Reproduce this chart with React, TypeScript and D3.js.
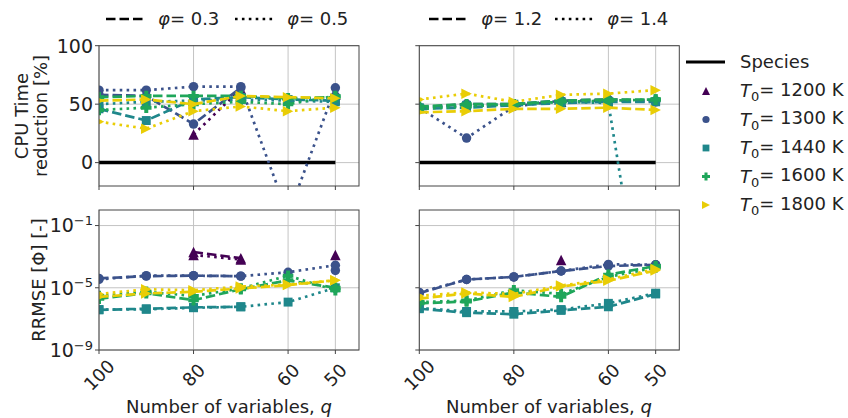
import React from "react";
import * as d3 from "d3";

const q = [100, 90, 80, 70, 60, 50];
const temps = [1200, 1300, 1440, 1600, 1800];
const colors = ["#440154", "#3b528b", "#1f878b", "#1fa65a", "#e9cd06"];
const markers = ["tri-up", "circle", "square", "plus", "tri-right"];

// CPU time reduction [%] (rows = temps, cols = q)
const cpuPhi03 = [
  [null, null, null, null, null, null],
  [58, 57, 33, 64, null, 57],
  [46, 36, 54, 56, 54, 53],
  [56, 57, 57, 57, 55, 56],
  [53, 54, 50, 57, 56, 55],
];
const cpuPhi05 = [
  [null, null, 24, 63, null, 58],
  [62, 62, 65, 65, -45, 64],
  [50, 52, 53, 54, 53, 52],
  [45, 47, 50, 52, 50, 57],
  [35, 29, 44, 48, 44, 47],
];
const cpuPhi12 = [
  [null, null, null, 52, null, null],
  [47, 50, 50, 53, 54, 53],
  [46, 47, 49, 51, 52, 52],
  [48, 50, 50, 53, 54, 54],
  [43, 44, 46, 46, 47, 45],
];
const cpuPhi14 = [
  [null, null, null, null, null, null],
  [47, 21, 48, 53, 53, 52],
  [47, 49, 50, 52, 51, -200],
  [46, 48, 50, 52, 53, 54],
  [54, 59, 52, 58, 59, 62],
];

// RRMSE
const errPhi03 = [
  [null, null, 2.0e-3, 8e-4, null, null],
  [4.0e-5, 5.6e-5, 6.0e-5, 5.6e-5, null, 1.3e-4],
  [3.8e-7, 4.5e-7, 5.5e-7, 6.0e-7, null, null],
  [2.0e-6, 4.5e-6, 1.6e-6, 8e-6, 3e-5, 1.0e-5],
  [2.6e-6, 4.3e-6, 5.5e-6, 9e-6, 1.5e-5, 3.0e-5],
];
const errPhi05 = [
  [null, null, 1.3e-3, 6.5e-4, null, 1.3e-3],
  [3.5e-5, 6e-5, 6e-5, 5.6e-5, 1.0e-4, 2.8e-4],
  [4.0e-7, 4.1e-7, 5.2e-7, 6.0e-7, 1.2e-6, 1.0e-5],
  [3.0e-6, 5.5e-6, 3.0e-6, 9e-6, 6e-5, 7e-6],
  [4e-6, 8e-6, 7e-6, 1.2e-5, 1.6e-5, 3.0e-5],
];
const errPhi12 = [
  [null, null, null, 6e-4, null, null],
  [4.5e-6, 3.4e-5, 5.0e-5, 1.2e-4, 2.5e-4, 3.0e-4],
  [4.5e-7, 2.5e-7, 2.0e-7, 3.5e-7, 6e-7, 4e-6],
  [1.0e-6, 1.3e-6, 5e-6, 2.6e-6, 7e-5, 2.5e-4],
  [2.0e-6, 4.3e-6, 2.6e-6, 1.2e-5, 2.8e-5, 1.3e-4],
];
const errPhi14 = [
  [null, null, null, null, null, null],
  [5e-6, 3.4e-5, 5.0e-5, 1.2e-4, 3.2e-4, 3.0e-4],
  [5.0e-7, 3.0e-7, 3.0e-7, 4.0e-7, 1.0e-6, 4.5e-6],
  [1.2e-6, 1.5e-6, 7e-6, 4e-6, 5e-5, 2.0e-4],
  [3e-6, 5e-6, 4e-6, 1.4e-5, 3.5e-5, 1.6e-4],
];

const xTicks = [100, 80, 60, 50];
const cpuTicks = [0, 50, 100];
const errTicks = [1e-9, 1e-5, 1e-1];

const font = "DejaVu Sans, sans-serif";
const DASH = "9.5,4";
const DOT = "2.6,4.3";

function Marker({ type, x, y, s, color }) {
  const r = s / 2;
  if (type === "circle") return <circle cx={x} cy={y} r={r * 0.9} fill={color} />;
  if (type === "square")
    return <rect x={x - r * 0.85} y={y - r * 0.85} width={r * 1.7} height={r * 1.7} fill={color} />;
  if (type === "tri-up")
    return <path d={`M${x},${y - r}L${x + r},${y + r}L${x - r},${y + r}Z`} fill={color} />;
  if (type === "tri-right")
    return <path d={`M${x + r},${y}L${x - r},${y - r}L${x - r},${y + r}Z`} fill={color} />;
  const t = r * 0.38;
  return (
    <path
      d={`M${x - t},${y - r}H${x + t}V${y - t}H${x + r}V${y + t}H${x + t}V${y + r}H${x - t}V${y + t}H${x - r}V${y - t}H${x - t}Z`}
      fill={color}
    />
  );
}

function Panel({ id, x, y, dashed, dotted, yTicks, yFmt, showY, showX, species }) {
  const [x0, x1] = x.range();
  const [y0, y1] = y.range();
  const line = d3
    .line()
    .defined((d) => d[1] != null)
    .x((d) => x(d[0]))
    .y((d) => y(d[1]));
  const series = [];
  temps.forEach((t, i) => {
    series.push({ vals: dashed[i], dash: DASH, i });
    series.push({ vals: dotted[i], dash: DOT, i });
  });
  return (
    <g>
      <defs>
        <clipPath id={id}>
          <rect x={x0} y={y1} width={x1 - x0} height={y0 - y1} />
        </clipPath>
      </defs>
      {xTicks.map((t) => (
        <line key={"gx" + t} x1={x(t)} x2={x(t)} y1={y0} y2={y1} stroke="#c4c4c4" strokeWidth={1} />
      ))}
      {yTicks.map((t) => (
        <line key={"gy" + t} x1={x0} x2={x1} y1={y(t)} y2={y(t)} stroke="#c4c4c4" strokeWidth={1} />
      ))}
      <g clipPath={`url(#${id})`}>
        {species && (
          <line x1={x(100)} x2={x(50)} y1={y(0)} y2={y(0)} stroke="#000" strokeWidth={3.5} />
        )}
        {series.map((s, k) => {
          const pts = q.map((v, j) => [v, s.vals[j]]);
          return (
            <g key={k}>
              <path
                d={line(pts)}
                fill="none"
                stroke={colors[s.i]}
                strokeWidth={2.7}
                strokeDasharray={s.dash}
              />
              {pts
                .filter((p) => p[1] != null)
                .map((p, j) => (
                  <Marker key={j} type={markers[s.i]} x={x(p[0])} y={y(p[1])} s={10.5} color={colors[s.i]} />
                ))}
            </g>
          );
        })}
      </g>
      <rect x={x0} y={y1} width={x1 - x0} height={y0 - y1} fill="none" stroke="#444" strokeWidth={1} />
      {xTicks.map((t) => (
        <g key={"tx" + t}>
          <line x1={x(t)} x2={x(t)} y1={y0} y2={y0 + 4} stroke="#444" />
          {showX && (
            <text
              transform={`translate(${x(t)},${y0 + 25}) rotate(-45)`}
              textAnchor="middle"
              dominantBaseline="central"
              fontSize={18}
              fontFamily={font}
              fill="#222"
            >
              {t}
            </text>
          )}
        </g>
      ))}
      {yTicks.map((t) => (
        <g key={"ty" + t}>
          <line x1={x0 - 4} x2={x0} y1={y(t)} y2={y(t)} stroke="#444" />
          {showY && yFmt(t, x0 - 6, y(t))}
        </g>
      ))}
    </g>
  );
}

const cpuFmt = (t, px, py) => (
  <text x={px} y={py} dy="0.36em" textAnchor="end" fontSize={19} fontFamily={font} fill="#222">
    {t}
  </text>
);
const errFmt = (t, px, py) => (
  <text x={px} y={py} dy="0.36em" textAnchor="end" fontSize={19} fontFamily={font} fill="#222">
    10
    <tspan dy="-0.55em" fontSize={13}>
      {"\u2212" + Math.round(-Math.log10(t))}
    </tspan>
  </text>
);

export default function App() {
  const xL = d3.scaleLinear().domain([100, 45]).range([99, 359]);
  const xR = d3.scaleLinear().domain([100, 45]).range([419.3, 679.3]);
  const yTop = d3.scaleLinear().domain([-20, 100]).range([186, 45.7]);
  const yBot = d3.scaleLog().domain([1e-9, 1]).range([350, 210]);

  const topLegend = [
    { x: 106, dash: DASH, label: "0.3" },
    { x: 235, dash: DOT, label: "0.5" },
    { x: 429, dash: DASH, label: "1.2" },
    { x: 555, dash: DOT, label: "1.4" },
  ];

  return (
    <svg
      width={848}
      height={418}
      style={{ position: "absolute", left: 0, top: 0, background: "#fff" }}
      fontFamily={font}
    >
      <rect width={848} height={418} fill="#fff" />
      <Panel id="c1" x={xL} y={yTop} dashed={cpuPhi03} dotted={cpuPhi05} yTicks={cpuTicks} yFmt={cpuFmt} showY showX={false} species />
      <Panel id="c2" x={xR} y={yTop} dashed={cpuPhi12} dotted={cpuPhi14} yTicks={cpuTicks} yFmt={cpuFmt} showY={false} showX={false} species />
      <Panel id="c3" x={xL} y={yBot} dashed={errPhi03} dotted={errPhi05} yTicks={errTicks} yFmt={errFmt} showY showX />
      <Panel id="c4" x={xR} y={yBot} dashed={errPhi12} dotted={errPhi14} yTicks={errTicks} yFmt={errFmt} showY={false} showX />

      {topLegend.map((l) => (
        <g key={l.label}>
          <line x1={l.x} x2={l.x + 38} y1={19} y2={19} stroke="#000" strokeWidth={2.5} strokeDasharray={l.dash} />
          <text x={l.x + 52} y={19} dy="0.36em" fontSize={18} fill="#222">
            <tspan fontStyle="italic">φ</tspan>= {l.label}
          </text>
        </g>
      ))}

      <text transform="translate(22,116) rotate(-90)" textAnchor="middle" dy="0.36em" fontSize={18} fill="#222">
        CPU Time
      </text>
      <text transform="translate(41,116) rotate(-90)" textAnchor="middle" dy="0.36em" fontSize={18} fill="#222">
        reduction [%]
      </text>
      <text transform="translate(39,280) rotate(-90)" textAnchor="middle" dy="0.36em" fontSize={18} fill="#222">
        RRMSE [Φ] [-]
      </text>
      {[229, 549].map((cx) => (
        <text key={cx} x={cx} y={413} textAnchor="middle" fontSize={18} fill="#222">
          Number of variables, <tspan fontStyle="italic">q</tspan>
        </text>
      ))}

      <line x1={686} x2={725} y1={62} y2={62} stroke="#000" strokeWidth={3} />
      <text x={740} y={62} dy="0.36em" fontSize={18} fill="#222">
        Species
      </text>
      {temps.map((t, i) => {
        const ly = 91 + i * 28.5;
        return (
          <g key={t}>
            <Marker type={markers[i]} x={706} y={ly} s={8} color={colors[i]} />
            <text x={740} y={ly} dy="0.36em" fontSize={18} fill="#222">
              <tspan fontStyle="italic">T</tspan>
              <tspan fontSize={13} dy="0.3em">0</tspan>
              <tspan dy="-0.3em">= {t} K</tspan>
            </text>
          </g>
        );
      })}
    </svg>
  );
}
